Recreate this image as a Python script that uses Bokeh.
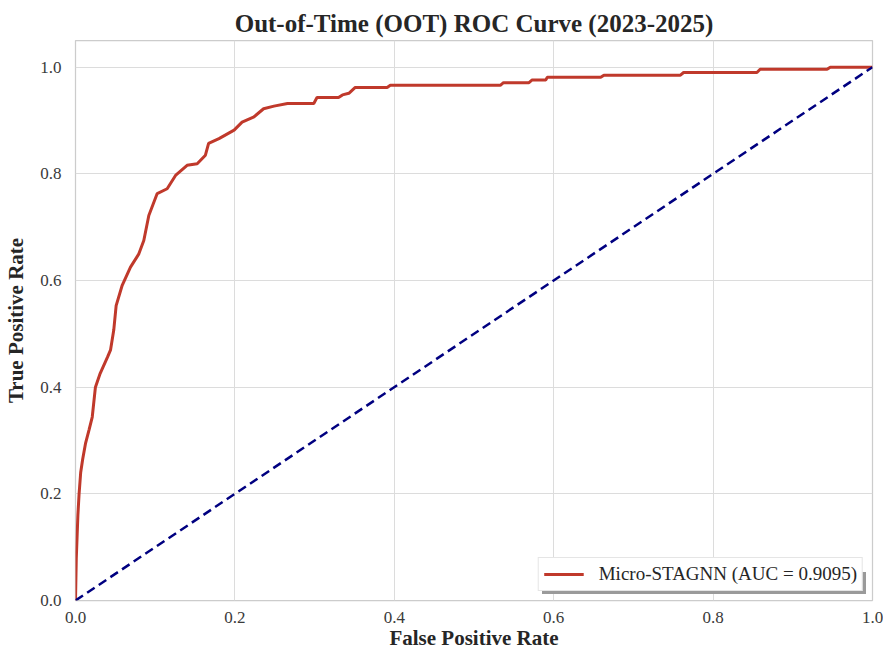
from bokeh.plotting import figure
from bokeh.models import Range1d, FixedTicker, NumeralTickFormatter, Legend, LegendItem
from bokeh.embed import file_html
from bokeh.resources import INLINE

# ---- data ----
fpr = [0.0, 0.001, 0.003, 0.0045, 0.0065, 0.009, 0.0125, 0.017, 0.021, 0.025,
       0.031, 0.040, 0.044, 0.048, 0.051, 0.0586, 0.069, 0.0795, 0.0857, 0.092,
       0.1025, 0.115, 0.1255, 0.140, 0.1527, 0.163, 0.167, 0.180, 0.199, 0.209,
       0.224, 0.236, 0.249, 0.266, 0.299, 0.303, 0.330, 0.335, 0.343, 0.351,
       0.391, 0.395, 0.533, 0.537, 0.569, 0.573, 0.590, 0.592, 0.659, 0.663,
       0.759, 0.763, 0.855, 0.859, 0.943, 0.947, 1.0]
tpr = [0.0, 0.08, 0.16, 0.20, 0.24, 0.265, 0.294, 0.32, 0.344, 0.40,
       0.426, 0.456, 0.47, 0.507, 0.553, 0.591, 0.625, 0.650, 0.675, 0.722,
       0.763, 0.772, 0.797, 0.816, 0.819, 0.835, 0.857, 0.866, 0.882, 0.897,
       0.907, 0.922, 0.927, 0.932, 0.932, 0.943, 0.943, 0.948, 0.951, 0.962,
       0.962, 0.966, 0.966, 0.971, 0.971, 0.976, 0.976, 0.981, 0.981, 0.985,
       0.985, 0.990, 0.990, 0.996, 0.996, 1.0, 1.0]
chance_x = [0.0, 1.0]
chance_y = [0.0, 1.0]
model_label = "Micro-STAGNN (AUC = 0.9095)"
x_ticks = [0.0, 0.2, 0.4, 0.6, 0.8, 1.0]
y_ticks = [0.0, 0.2, 0.4, 0.6, 0.8, 1.0]
title_text = "Out-of-Time (OOT) ROC Curve (2023-2025)"
x_label = "False Positive Rate"
y_label = "True Positive Rate"

FONT = "Liberation Serif"
TEXT = "#262626"
RED = "#c0392b"
GRID = "#dcdcdc"

p = figure(width=883, height=655, output_backend="svg", toolbar_location=None,
           x_range=Range1d(0, 1), y_range=Range1d(0, 1.05),
           min_border_left=75, min_border_right=11, min_border_top=40,
           min_border_bottom=55, background_fill_color="white",
           border_fill_color="white")

p.title.text = title_text
p.title.align = "center"
p.title.text_font = FONT
p.title.text_font_style = "bold"
p.title.text_font_size = "25px"
p.title.text_color = TEXT
p.title.standoff = 7

p.outline_line_color = "#cccccc"
p.outline_line_width = 1.25

for ax, ticks, lab in ((p.xaxis, x_ticks, x_label), (p.yaxis, y_ticks, y_label)):
    ax.ticker = FixedTicker(ticks=ticks)
    ax.formatter = NumeralTickFormatter(format="0.0")
    ax.axis_label = lab
    ax.axis_label_text_font = FONT
    ax.axis_label_text_font_style = "bold"
    ax.axis_label_text_font_size = "21px"
    ax.axis_label_text_color = TEXT
    ax.major_label_text_font = FONT
    ax.major_label_text_font_size = "17px"
    ax.major_label_text_color = "#3a3a3a"
    ax.axis_line_color = None
    ax.major_tick_line_color = None
    ax.minor_tick_line_color = None
    ax.major_tick_out = 0
    ax.major_tick_in = 0

p.xaxis.major_label_standoff = 11
p.xaxis.axis_label_standoff = 0
p.yaxis.major_label_standoff = 14
p.yaxis.axis_label_standoff = 9

p.xgrid.ticker = FixedTicker(ticks=x_ticks)
p.ygrid.ticker = FixedTicker(ticks=y_ticks)
p.xgrid.grid_line_color = GRID
p.ygrid.grid_line_color = GRID
p.xgrid.grid_line_width = 1
p.ygrid.grid_line_width = 1

roc = p.line(fpr, tpr, line_color=RED, line_width=3)
p.line(chance_x, chance_y, line_color="navy", line_width=2.5, line_dash="9 5")

# drop shadow of the legend: a blank box of the same size, offset 3 px right/down
shadow = Legend(items=[LegendItem(label="", renderers=[roc])],
                location="bottom_right", margin=6, padding=5,
                glyph_width=304, glyph_height=22, label_height=22,
                label_standoff=0, label_text_font=FONT,
                label_text_font_size="19px",
                background_fill_color="#9a9a9a", background_fill_alpha=1.0,
                border_line_color=None)
main_legend = Legend(items=[LegendItem(label=model_label, renderers=[roc])],
                     location="bottom_right", margin=9, padding=5,
                     glyph_width=40, glyph_height=22, label_height=22,
                     label_standoff=15, label_text_font=FONT,
                     label_text_font_size="19px", label_text_color=TEXT,
                     background_fill_color="white", background_fill_alpha=1.0,
                     border_line_color="#cccccc", border_line_width=1)
p.add_layout(shadow, "center")
p.add_layout(main_legend, "center")

open("out.html", "w").write(file_html(p, INLINE))
